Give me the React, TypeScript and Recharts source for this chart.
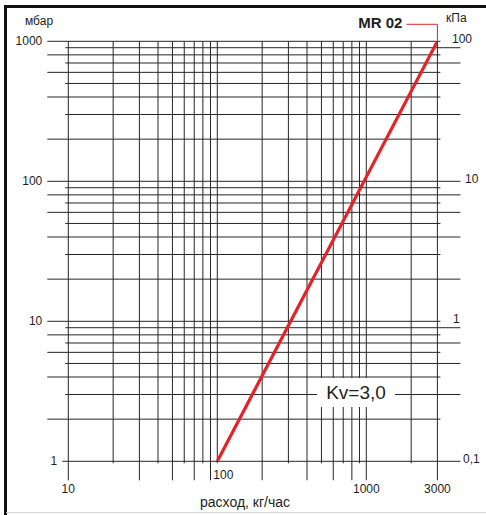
import React from 'react';
import { LineChart, Line, XAxis, YAxis, ReferenceLine } from 'recharts';

// Characteristic of MR 02, Kv = 3,0 (log-log)
const flowKgH = [100, 3000];
const dropMbar = [1, 1000];

// grid values
const xGrid = [10, 20, 30, 40, 50, 60, 70, 80, 90, 100, 200, 300, 400, 500, 600, 700, 800, 900, 1000, 2000, 3000];
const yGrid = [1, 2, 3, 4, 5, 6, 7, 8, 9, 10, 20, 30, 40, 50, 60, 70, 80, 90, 100, 200, 300, 400, 500, 600, 700, 800, 900, 1000];

// tick labels
const xTicks = [10, 100, 1000, 3000];
const mbarTicks = [1, 10, 100, 1000];
const kpaLabels = ['0,1', '1', '10', '100'];

const W = 486;
const H = 515;
const FONT = '"Liberation Sans", Arial, Helvetica, sans-serif';
const GRID = '#262626';
const TEXT = '#1e1e1e';
const RED = '#e42229';

const chartData = flowKgH.map((f, i) => ({ flow: f, mbar: dropMbar[i] }));

const decade = (v: number) => Math.floor(Math.log10(v) + 1e-9);
const mant = (v: number) => Math.round(v / Math.pow(10, decade(v)));

// x start of kPa labels, by label
const kpaX: Record<string, number> = { '0,1': 463, '1': 453, '10': 465, '100': 452 };

const hShape = (v: number) => (p: any) => {
  const m = mant(v);
  const d = decade(v);
  const leftLong = v !== 1 && (m % 2 === 0 || m === 1);
  const rightLong = (m % 2 === 1) !== (d % 2 === 1);
  const xa = Math.min(p.x1, p.x2);
  const xb = Math.max(p.x1, p.x2);
  const y = p.y1;
  const x1 = xa - (v === 1 ? 6 : leftLong ? 21 : 3);
  const x2 = xb + (rightLong ? 23 : 3);
  const ti = mbarTicks.indexOf(v);
  return (
    <g>
      <line x1={x1} y1={y} x2={x2} y2={y} stroke={GRID} strokeWidth={1} />
      {ti >= 0 && (
        <>
          <text x={x1 - 5} y={y} textAnchor="end" dominantBaseline="central" fontSize={12} fill={TEXT} fontFamily={FONT}>
            {v}
          </text>
          <text x={kpaX[kpaLabels[ti]]} y={y - 2} dominantBaseline="central" fontSize={12} fill={TEXT} fontFamily={FONT}>
            {kpaLabels[ti]}
          </text>
        </>
      )}
    </g>
  );
};

const vShape = (v: number) => (p: any) => {
  const m = mant(v);
  const d = decade(v);
  const long = (m % 2 === 1) === (d % 2 === 1);
  const x = p.x1;
  const ya = Math.min(p.y1, p.y2);
  const yb = Math.max(p.y1, p.y2);
  const ti = xTicks.indexOf(v);
  return (
    <g>
      <line x1={x} y1={ya} x2={x} y2={yb + (long ? 19 : 2)} stroke={GRID} strokeWidth={1} />
      {ti >= 0 &&
        (long ? (
          <text x={x} y={yb + 28} textAnchor="middle" dominantBaseline="central" fontSize={12} fill={TEXT} fontFamily={FONT}>
            {v}
          </text>
        ) : (
          <text x={x - 4} y={yb + 14} dominantBaseline="central" fontSize={12} fill={TEXT} fontFamily={FONT}>
            {v}
          </text>
        ))}
    </g>
  );
};

// red leader from the curve end to the "MR 02" caption
const leaderShape = (p: any) => {
  const x = p.x1;
  const top = Math.min(p.y1, p.y2);
  return (
    <g>
      <polyline points={`${x - 31},${top - 17} ${x},${top - 17} ${x},${top}`} fill="none" stroke={RED} strokeWidth={1} />
      <text x={x - 35} y={top - 19} textAnchor="end" dominantBaseline="central" fontSize={15} fontWeight="bold" fill={TEXT} fontFamily={FONT}>
        MR 02
      </text>
    </g>
  );
};

export default function App() {
  return (
    <div style={{ position: 'absolute', left: 0, top: 0, width: W, height: H, background: '#fff', fontFamily: FONT, overflow: 'hidden' }}>
      <LineChart width={W} height={H} data={chartData} margin={{ top: 41.3, right: 48.6, bottom: 53.7, left: 68.3 }}>
        <XAxis dataKey="flow" type="number" scale="log" domain={[10, 3000]} allowDataOverflow hide />
        <YAxis type="number" scale="log" domain={[1, 1000]} allowDataOverflow hide />
        {yGrid.map((v) => (
          <ReferenceLine key={'h' + v} y={v} ifOverflow="visible" shape={hShape(v)} />
        ))}
        {xGrid.map((v) => (
          <ReferenceLine key={'v' + v} x={v} ifOverflow="visible" shape={vShape(v)} />
        ))}
        <ReferenceLine x={3000} ifOverflow="visible" shape={leaderShape} />
        <Line dataKey="mbar" stroke={RED} strokeWidth={3.2} dot={false} activeDot={false} isAnimationActive={false} />
      </LineChart>

      {/* axis captions */}
      <div style={{ position: 'absolute', left: 25, top: 14, fontSize: 12, color: TEXT }}>мбар</div>
      <div style={{ position: 'absolute', left: 446, top: 11, fontSize: 12, color: TEXT }}>кПа</div>
      <div style={{ position: 'absolute', left: 200, top: 494, fontSize: 14, color: TEXT }}>расход, кг/час</div>

      {/* Kv label box */}
      <div
        style={{
          position: 'absolute', left: 317, top: 378, width: 78, height: 29, background: '#fff',
          fontSize: 19, color: TEXT, textAlign: 'center', lineHeight: '29px',
        }}
      >
        Kv=3,0
      </div>

      {/* frame */}
      <div style={{ position: 'absolute', left: 4, top: 5, width: 2.5, height: H - 5, background: '#111' }} />
      <div style={{ position: 'absolute', left: 4, top: 5, width: W - 4, height: 3, background: '#111' }} />
      <div style={{ position: 'absolute', left: 6, top: 512, width: W - 6, height: 1, background: '#d4d4d4' }} />
    </div>
  );
}
